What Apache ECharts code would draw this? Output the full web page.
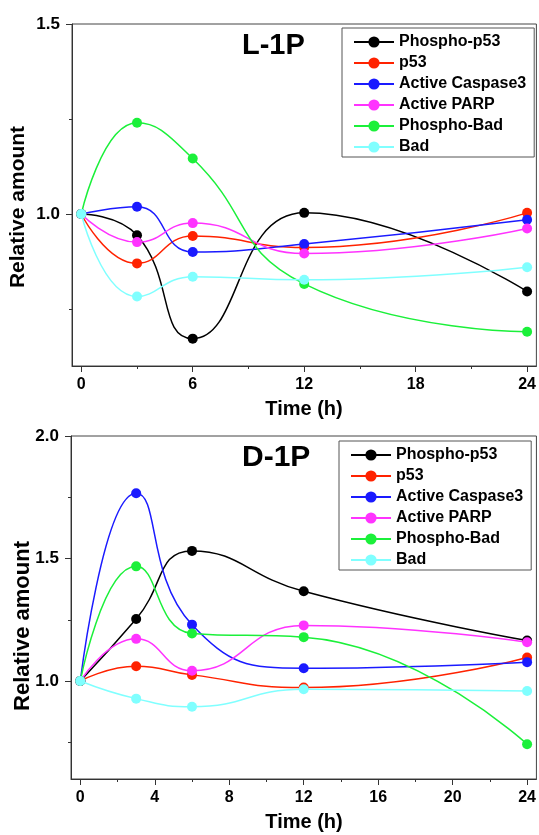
<!DOCTYPE html>
<html>
<head>
<meta charset="utf-8">
<script src="https://cdn.jsdelivr.net/npm/echarts@6/dist/echarts.min.js"></script>
<style>html,body{margin:0;padding:0;background:#fff;}#c{width:539px;height:835px;}</style>
</head>
<body>
<div id="c"></div>
<script>
var times = [0, 3, 6, 12, 24];
var seriesNames = ['Phospho-p53', 'p53', 'Active Caspase3', 'Active PARP', 'Phospho-Bad', 'Bad'];
var colors = ['#000000', '#FF2200', '#1A1AFF', '#FF33FF', '#1BF03A', '#80FFFF'];

// L-1P panel
var phosphoP53_L = [1.0, 0.944, 0.672, 1.003, 0.796];
var p53_L        = [1.0, 0.870, 0.942, 0.912, 1.003];
var caspase3_L   = [1.0, 1.019, 0.900, 0.921, 0.985];
var parp_L       = [1.0, 0.926, 0.976, 0.896, 0.962];
var phosphoBad_L = [1.0, 1.240, 1.146, 0.816, 0.690];
var bad_L        = [1.0, 0.783, 0.835, 0.827, 0.860];

// D-1P panel
var phosphoP53_D = [1.0, 1.253, 1.531, 1.366, 1.165];
var p53_D        = [1.0, 1.060, 1.025, 0.973, 1.096];
var caspase3_D   = [1.0, 1.766, 1.230, 1.052, 1.077];
var parp_D       = [1.0, 1.172, 1.042, 1.227, 1.158];
var phosphoBad_D = [1.0, 1.468, 1.194, 1.179, 0.742];
var bad_D        = [1.0, 0.928, 0.895, 0.966, 0.959];

// tick values
var xMajorTop = [0, 6, 12, 18, 24];
var xMinorTop = [3, 9, 15, 21];
var xMajorBot = [0, 4, 8, 12, 16, 20, 24];
var xMinorBot = [2, 6, 10, 14, 18, 22];
var yMajorTop = [1.0, 1.5];
var yMinorTop = [0.75, 1.25];
var yMajorBot = [1.0, 1.5, 2.0];
var yMinorBot = [0.75, 1.25, 1.75];

var panelL = [phosphoP53_L, p53_L, caspase3_L, parp_L, phosphoBad_L, bad_L];
var panelD = [phosphoP53_D, p53_D, caspase3_D, parp_D, phosphoBad_D, bad_D];

var FONT = 'Liberation Sans, Arial, sans-serif';
var AX = '#333';

function pairs(vals) { return times.map(function (t, i) { return [t, vals[i]]; }); }

function xAxes(grid, majors, minors) {
  return [
    { type: 'value', gridIndex: grid, position: 'bottom', min: -0.5, max: 24.5,
      axisLine: { show: true, onZero: false, lineStyle: { color: AX, width: 1 } },
      axisTick: { show: true, customValues: majors, length: 6, lineStyle: { color: AX } },
      axisLabel: { show: true, customValues: majors, margin: 11, fontSize: 16, fontWeight: 'bold', color: '#000', fontFamily: FONT },
      splitLine: { show: false } },
    { type: 'value', gridIndex: grid, position: 'bottom', offset: 0, min: -0.5, max: 24.5,
      axisLine: { show: false, onZero: false },
      axisTick: { show: true, customValues: minors, length: 3, lineStyle: { color: AX } },
      axisLabel: { show: false }, splitLine: { show: false } }
  ];
}
function yAxes(grid, min, max, majors, minors) {
  return [
    { type: 'value', gridIndex: grid, position: 'left', min: min, max: max,
      axisLine: { show: true, onZero: false, lineStyle: { color: AX, width: 1 } },
      axisTick: { show: true, customValues: majors, length: 6, lineStyle: { color: AX } },
      axisLabel: { show: true, customValues: majors, margin: 12, fontSize: 17, fontWeight: 'bold', color: '#000', fontFamily: FONT,
        formatter: function (v) { return v.toFixed(1); } },
      splitLine: { show: false } },
    { type: 'value', gridIndex: grid, position: 'left', offset: 0, min: min, max: max,
      axisLine: { show: false, onZero: false },
      axisTick: { show: true, customValues: minors, length: 3, lineStyle: { color: AX } },
      axisLabel: { show: false }, splitLine: { show: false } }
  ];
}

var series = [];
function addPanel(panel, axisIdx) {
  panel.forEach(function (vals, i) {
    series.push({
      name: seriesNames[i], type: 'line', xAxisIndex: axisIdx, yAxisIndex: axisIdx,
      data: pairs(vals), smooth: 0.5, symbol: 'circle', symbolSize: 10, showSymbol: true,
      lineStyle: { width: 1.5, color: colors[i] }, itemStyle: { color: colors[i] },
      emphasis: { disabled: true }, z: 2 + i
    });
  });
}
addPanel(panelL, 0);
addPanel(panelD, 2);

function legend(left, top) {
  return {
    left: left, top: top, orient: 'vertical', data: seriesNames, selectedMode: false,
    borderColor: '#555', borderWidth: 1, borderRadius: 0, backgroundColor: '#fff',
    padding: [6, 8, 2, 11], itemWidth: 40, itemHeight: 14, itemGap: 5,
    textStyle: { fontSize: 16, fontWeight: 'bold', color: '#000', fontFamily: FONT, lineHeight: 16 }
  };
}

function txt(x, y, text, size, rot) {
  return { type: 'text', x: x, y: y, rotation: rot || 0,
    style: { text: text, fill: '#000', font: 'bold ' + size + 'px ' + FONT, textAlign: 'center', textVerticalAlign: 'middle' } };
}

var option = {
  animation: false,
  backgroundColor: '#fff',
  grid: [
    { left: 72, top: 24, width: 465, height: 342, show: true, borderColor: '#444', borderWidth: 1, backgroundColor: 'transparent' },
    { left: 71, top: 436, width: 466, height: 343, show: true, borderColor: '#444', borderWidth: 1, backgroundColor: 'transparent' }
  ],
  xAxis: xAxes(0, xMajorTop, xMinorTop).concat(xAxes(1, xMajorBot, xMinorBot)),
  yAxis: yAxes(0, 0.6, 1.5, yMajorTop, yMinorTop).concat(yAxes(1, 0.6, 2.0, yMajorBot, yMinorBot)),
  legend: [legend(342, 28), legend(339, 441)],
  series: series,
  graphic: [
    { type: 'text', left: 242, top: 31, style: { text: 'L-1P', fill: '#000', font: 'bold 29px ' + FONT } },
    { type: 'text', left: 242, top: 443, style: { text: 'D-1P', fill: '#000', font: 'bold 30px ' + FONT } },
    txt(304, 409, 'Time (h)', 20),
    txt(304, 822, 'Time (h)', 20),
    txt(18, 207, 'Relative amount', 21, Math.PI / 2),
    txt(23, 626, 'Relative amount', 22, Math.PI / 2)
  ]
};

var chart = echarts.init(document.getElementById('c'), null, { renderer: 'canvas' });
chart.setOption(option);
</script>
</body>
</html>
